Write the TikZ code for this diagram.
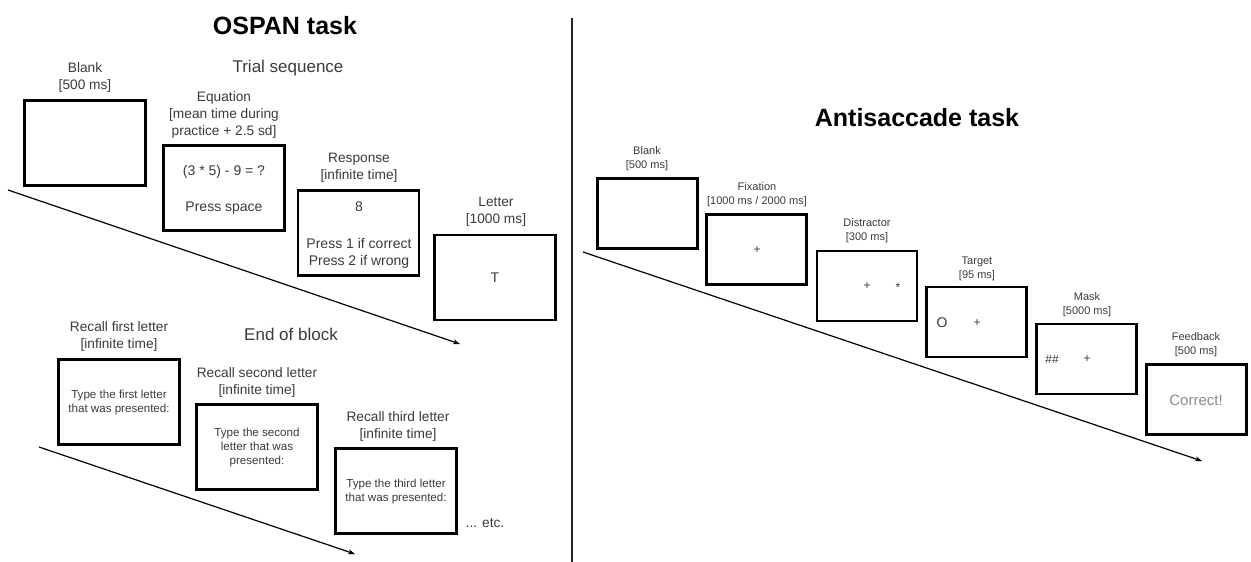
\documentclass[tikz,border=0pt]{standalone}
\usepackage{fontspec}
\setmainfont{Liberation Sans}
\usetikzlibrary{arrows.meta}
\definecolor{txt}{HTML}{3A3A3A}
\definecolor{fbcol}{HTML}{8C8C8C}
\begin{document}
\begin{tikzpicture}[x=1pt,y=-1pt,
  scr/.style={draw=black, line width=2.8pt, minimum width=121pt, minimum height=85pt, inner sep=0pt},
  sscr/.style={draw=black, line width=2.4pt, minimum width=100pt, minimum height=70pt, inner sep=0pt},
  ttl/.style={text=black, inner sep=0pt, font=\fontsize{25}{30}\selectfont\bfseries},
  sub/.style={text=txt, inner sep=0pt, font=\fontsize{17}{20}\selectfont},
  lbl/.style={text=txt, align=center, inner sep=0pt, font=\fontsize{13.7}{17}\selectfont},
  inl/.style={text=txt, align=center, inner sep=0pt, font=\fontsize{14}{17}\selectfont},
  rin/.style={text=txt, align=center, inner sep=0pt, font=\fontsize{11.6}{14}\selectfont},
  slbl/.style={text=txt, align=center, inner sep=0pt, font=\fontsize{11}{14}\selectfont},
  sym/.style={text=txt, inner sep=0pt, font=\fontsize{12}{14}\selectfont},
  timeline/.style={line width=1.2pt, -{Stealth[length=7pt,width=5pt]}},
  divider/.style={line width=1.6pt, draw=black!85}
]
\useasboundingbox (0,0) rectangle (1251,562);

% ---------- divider ----------
\coordinate (dtop) at (572,18);
\coordinate (dbot) at (572,562);
\draw[divider] (dtop) -- (dbot);

% ---------- OSPAN task ----------
\node[ttl] (t1) at (285,26) {OSPAN task};
\node[sub] (ts) at (288,68) {Trial sequence};

\node[scr] (b1) at (85,143) {};
\node[scr] (b2) at (224,188) {};
\node[scr] (b3) at (358.5,233) {};
\node[scr] (b4) at (495,277.5) {};

\node[lbl] (l1) at (85,77.5) {Blank\\{}[500 ms]};
\node[lbl] (l2) at (224,115) {Equation\\{}[mean time during\\practice + 2.5 sd]};
\node[lbl] (l3) at (359,167.5) {Response\\{}[infinite time]};
\node[lbl] (l4) at (496,212) {Letter\\{}[1000 ms]};

\node[inl] (e1) at (224,172) {(3 * 5) - 9 = ?};
\node[inl] (e2) at (224,208) {Press space};
\node[inl] (r1) at (359,207) {8};
\node[inl] (r2) at (359,253.5) {Press 1 if correct\\Press 2 if wrong};
\node[inl] (lt) at (495,278) {T};

\coordinate (a1s) at (8,190);
\coordinate (a1e) at (460,344);
\draw[timeline] (a1s) -- (a1e);

\node[sub] (eb) at (291,334) {End of block};

\node[scr] (c1) at (119,402) {};
\node[scr] (c2) at (257,447) {};
\node[scr] (c3) at (396,491) {};

\node[lbl] (m1) at (119,336) {Recall first letter\\{}[infinite time]};
\node[lbl] (m2) at (257,382.5) {Recall second letter\\{}[infinite time]};
\node[lbl] (m3) at (398,426.5) {Recall third letter\\{}[infinite time]};

\node[rin] (c1t) at (119,402.5) {Type the first letter\\that was presented:};
\node[rin] (c2t) at (257,447.5) {Type the second\\letter that was\\presented:};
\node[rin] (c3t) at (396,491) {Type the third letter\\that was presented:};

\node[lbl] (etc) at (485,523) {... etc.};

\coordinate (a2s) at (39,447);
\coordinate (a2e) at (355,554);
\draw[timeline] (a2s) -- (a2e);

% ---------- Antisaccade task ----------
\node[ttl] (t2) at (917,118) {Antisaccade task};

\node[sscr] (s1) at (647.5,213.5) {};
\node[sscr] (s2) at (756.5,249.5) {};
\node[sscr] (s3) at (867,286) {};
\node[sscr] (s4) at (976.5,322) {};
\node[sscr] (s5) at (1086.5,359) {};
\node[sscr] (s6) at (1196.5,399.5) {};

\node[slbl] (k1) at (647,159) {Blank\\{}[500 ms]};
\node[slbl] (k2) at (757,195) {Fixation\\{}[1000 ms / 2000 ms]};
\node[slbl] (k3) at (867,230.5) {Distractor\\{}[300 ms]};
\node[slbl] (k4) at (977,269) {Target\\{}[95 ms]};
\node[slbl] (k5) at (1087,305) {Mask\\{}[5000 ms]};
\node[slbl] (k6) at (1196,345) {Feedback\\{}[500 ms]};

\node[sym] (p2) at (757,250) {+};
\node[sym] (p3) at (867,286) {+};
\node[sym] (d3) at (898,287) {*};
\node[sym, font=\fontsize{14}{16}\selectfont] (o4) at (942,323) {O};
\node[sym] (p4) at (977,323) {+};
\node[sym] (h5) at (1052,359) {\#\#};
\node[sym] (p5) at (1087,359) {+};
\node[inner sep=0pt, text=fbcol, font=\fontsize{15}{18}\selectfont] (fb) at (1196,400) {Correct!};

\coordinate (a3s) at (583,252);
\coordinate (a3e) at (1202,461);
\draw[timeline] (a3s) -- (a3e);
\end{tikzpicture}
\end{document}
